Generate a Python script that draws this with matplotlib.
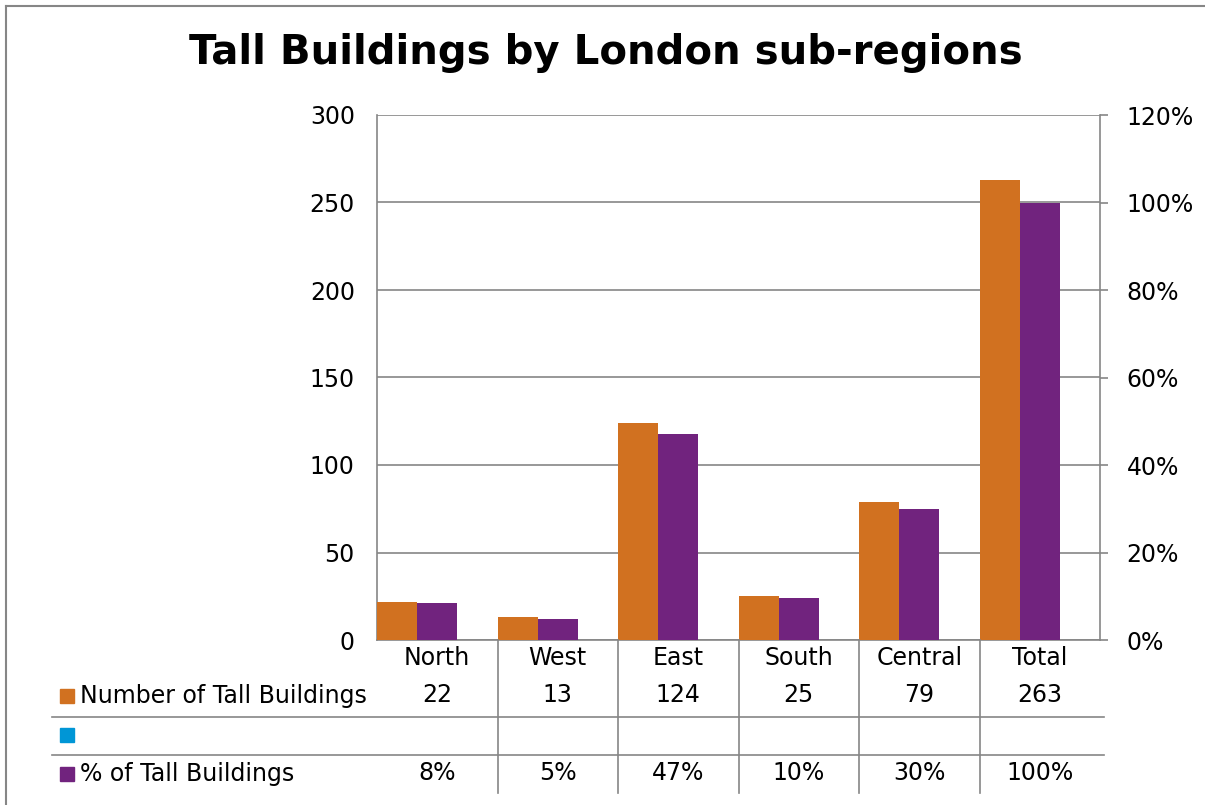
import matplotlib
matplotlib.use("Agg")
import matplotlib.pyplot as plt
import matplotlib.transforms as mtransforms
from matplotlib.patches import Rectangle
from matplotlib.lines import Line2D

# data
regions = ["North", "West", "East", "South", "Central", "Total"]
n_tall = [22, 13, 124, 25, 79, 263]
pct_tall = [8.4, 4.9, 47.1, 9.5, 30.0, 100.0]
left_ticks = [0, 50, 100, 150, 200, 250, 300]
right_ticks = [0, 20, 40, 60, 80, 100, 120]

c_orange = "#D17120"
c_purple = "#71237E"
c_blue = "#0096D6"
c_grid = "#868686"

W, H = 1205, 805
plt.rcParams["font.family"] = ["DejaVu Sans"]
fs = 17

fig = plt.figure(figsize=(W / 100, H / 100), dpi=100)

def fy(y):
    return 1 - y / H

def fx(x):
    return x / W

ax = fig.add_axes([fx(377), fy(640), fx(1100) - fx(377), fy(115) - fy(640)])
ax2 = ax.twinx()

x = list(range(len(regions)))
bw = 1 / 3
ax.bar([i - bw for i in x], n_tall, width=bw, color=c_orange, zorder=3)
ax2.bar(x, pct_tall, width=bw, color=c_purple, zorder=3)

ax.set_xlim(-0.5, 5.5)
ax.set_ylim(0, 300)
ax2.set_ylim(0, 120)
ax.set_yticks(left_ticks)
ax2.set_yticks(right_ticks)
ax2.set_yticklabels([f"{t}%" for t in right_ticks])
ax.set_xticks([])

ax.grid(axis="y", color=c_grid, lw=1.2, zorder=0)
ax.set_axisbelow(True)
ax.tick_params(axis="y", length=0, pad=16, labelsize=fs)
ax2.tick_params(axis="y", length=6, width=1.2, color=c_grid, pad=13, labelsize=fs)

for a in (ax, ax2):
    a.spines["top"].set_visible(False)
    for s in ("left", "right", "bottom"):
        a.spines[s].set_color(c_grid)
        a.spines[s].set_linewidth(1.2)
ax.spines["right"].set_visible(False)
ax2.spines["left"].set_visible(False)
ax2.spines["bottom"].set_visible(False)

# title
fig.text(fx(606), fy(64), "Tall Buildings by London sub-regions", ha="center",
         va="baseline", fontsize=29, fontweight="bold")

# data table under the chart
tr = mtransforms.blended_transform_factory(ax.transData, fig.transFigure)
for i, r in enumerate(regions):
    fig.text(i, fy(658), r, transform=tr, ha="center", va="center", fontsize=fs)
    fig.text(i, fy(695), str(n_tall[i]), transform=tr, ha="center", va="center", fontsize=fs)
    fig.text(i, fy(773), f"{int(pct_tall[i] + 0.5)}%", transform=tr, ha="center",
             va="center", fontsize=fs)
for i in range(len(regions) - 1):
    fig.add_artist(Line2D([i + 0.5, i + 0.5], [fy(640), fy(793)], transform=tr,
                          color=c_grid, lw=1.2))
for yy in (716.5, 755):
    fig.add_artist(Line2D([fx(52), fx(1104)], [fy(yy), fy(yy)], color=c_grid, lw=1.2))

rows = [("Number of Tall Buildings", c_orange, 696), ("", c_blue, 735),
        ("% of Tall Buildings", c_purple, 774)]
for label, col, yc in rows:
    fig.add_artist(Rectangle((fx(60), fy(yc + 7)), fx(14), 14 / H, color=col,
                             transform=fig.transFigure))
    if label:
        fig.text(fx(80), fy(yc), label, ha="left", va="center", fontsize=fs)

# outer frame
fig.add_artist(Line2D([fx(6), fx(6)], [0, fy(6)], color=c_grid, lw=1.5))
fig.add_artist(Line2D([fx(6), 1], [fy(6), fy(6)], color=c_grid, lw=1.5))

fig.savefig("out.png", dpi=100)
